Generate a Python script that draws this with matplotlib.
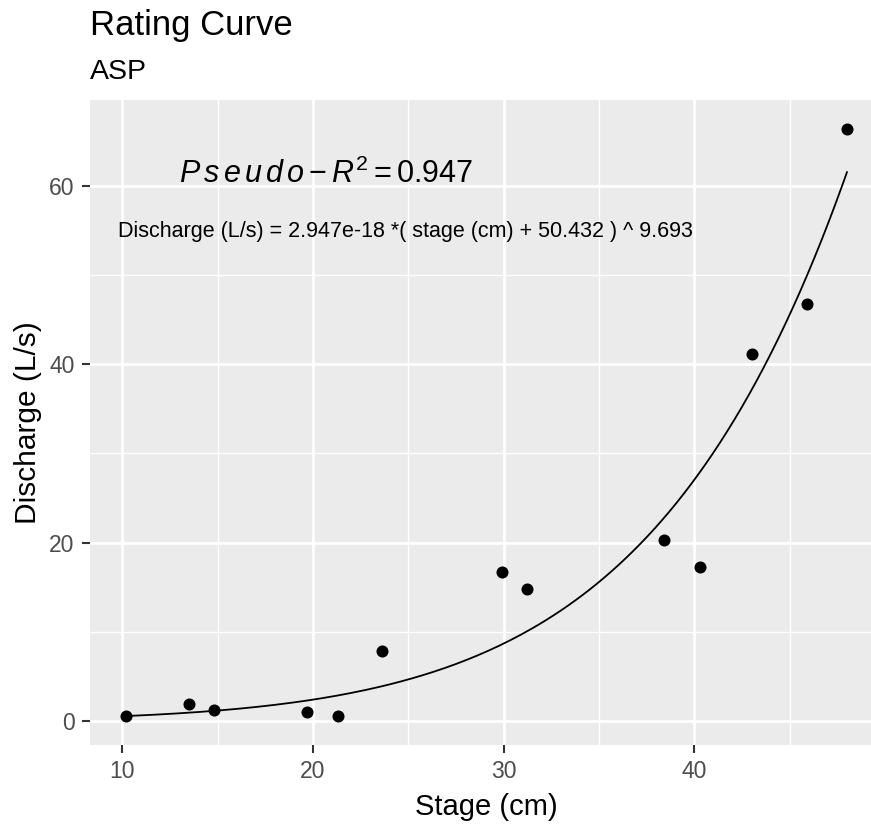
import numpy as np
import matplotlib
matplotlib.use("Agg")
import matplotlib.pyplot as plt

# observed stage / discharge pairs
stage = [10.2, 13.5, 14.8, 19.7, 21.3, 23.6, 29.9, 31.2, 38.4, 40.3, 43.0, 45.9, 48.0]
discharge = [0.6, 1.9, 1.2, 1.0, 0.6, 7.9, 16.7, 14.8, 20.3, 17.3, 41.1, 46.7, 66.3]

# fitted power law coefficients (as printed on the chart)
coef_a = 2.947e-18
coef_b = 50.432
coef_c = 9.693
pseudo_r2 = 0.947

x_ticks = [10, 20, 30, 40]
y_ticks = [0, 20, 40, 60]

plt.rcParams['font.family'] = ['Liberation Sans', 'DejaVu Sans']
plt.rcParams['mathtext.fontset'] = 'custom'
plt.rcParams['mathtext.it'] = 'Liberation Sans:italic'
plt.rcParams['mathtext.rm'] = 'Liberation Sans'

W, H = 871, 826
fig = plt.figure(figsize=(W / 100, H / 100), dpi=100)
# panel runs past the right edge (image is cropped there)
left, right, top, bottom = 90, 883, 100, 745
ax = fig.add_axes([left / W, 1 - bottom / H, (right - left) / W, (bottom - top) / H])
ax.set_facecolor('#EBEBEB')
for s in ax.spines.values():
    s.set_visible(False)

# ggplot-style expansion of 5%
xr = max(stage) - min(stage)
yr = max(discharge) - min(discharge)
ax.set_xlim(min(stage) - 0.05 * xr, max(stage) + 0.05 * xr)
ax.set_ylim(min(discharge) - 0.05 * yr, max(discharge) + 0.05 * yr)

ax.set_xticks(x_ticks)
ax.set_yticks(y_ticks)
ax.set_xticks([15, 25, 35, 45], minor=True)
ax.set_yticks([10, 30, 50], minor=True)
ax.grid(which='major', color='white', linewidth=2.0)
ax.grid(which='minor', color='white', linewidth=1.0)
ax.set_axisbelow(True)
ax.tick_params(which='major', length=6, width=1.5, color='#333333',
               labelsize=16.5, labelcolor='#4D4D4D', pad=5)
ax.tick_params(which='minor', length=0)

# fitted curve over observed stage range
xs = np.linspace(min(stage), max(stage), 200)
ax.plot(xs, coef_a * (xs + coef_b) ** coef_c, color='black', linewidth=1.3)
ax.scatter(stage, discharge, s=75, color='black', zorder=3, linewidths=0)

ax.text(20.7, 61.3, r'$P\,s\,e\,u\,d\,o - R^2 = %.3f$' % pseudo_r2, fontsize=22,
        ha='center', va='center')
ax.text(24.86, 54.8,
        'Discharge (L/s) = %.3fe-18 *( stage (cm) + %.3f ) ^ %.3f'
        % (coef_a * 1e18, coef_b, coef_c),
        fontsize=15.5, ha='center', va='center')

ax.set_xlabel('Stage (cm)', fontsize=21, labelpad=7)
ax.set_ylabel('Discharge (L/s)', fontsize=21.5, labelpad=5)

fig.text(left / W, 1 - 25 / H, 'Rating Curve', fontsize=25, ha='left', va='center')
fig.text(left / W, 1 - 72 / H, 'ASP', fontsize=20.5, ha='left', va='center')

fig.savefig('out.png', dpi=100)
